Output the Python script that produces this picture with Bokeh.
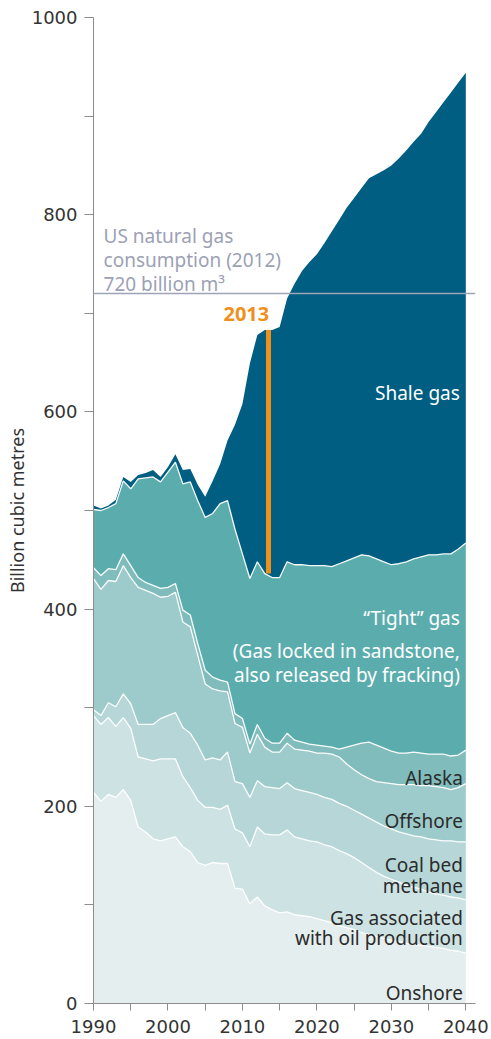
from bokeh.plotting import figure
from bokeh.models import Range1d, FixedTicker, Span, ColumnDataSource
from bokeh.core.properties import value
from bokeh.embed import file_html
from bokeh.resources import INLINE

years = list(range(1990, 2041))

onshore = [214, 205, 212, 209, 217, 206, 179, 174, 167, 165, 167, 169, 159, 154, 143, 140, 143, 142, 142,
           117, 116, 101, 108, 99, 95, 92, 93, 90, 89, 88, 86, 84, 82, 79, 77, 75, 72, 70, 68, 66, 64,
           63, 61, 60, 59, 58, 57, 56, 54, 53, 51]
associated = [78, 78, 78, 72, 73, 73, 71, 74, 79, 83, 81, 79, 71, 65, 63, 59, 56, 55, 59, 60, 57, 58, 71,
              73, 76, 79, 83, 79, 78, 77, 78, 77, 77, 76, 75, 73, 71, 68, 65, 63, 62, 60, 59, 58, 57, 55,
              54, 54, 54, 54, 54]
coalbed = [6, 9, 15, 20, 24, 25, 33, 35, 37, 41, 44, 47, 50, 55, 56, 48, 50, 50, 54, 48, 50, 50, 47, 48,
           48, 47, 48, 49, 49, 49, 48, 48, 48, 48, 48, 48, 49, 50, 51, 51, 51, 51, 52, 52, 53, 54, 55, 55,
           57, 57, 59]
offshore = [133, 128, 124, 127, 130, 128, 139, 136, 133, 123, 121, 122, 107, 108, 91, 77, 70, 70, 61, 59,
            57, 45, 47, 40, 36, 37, 40, 40, 41, 42, 42, 45, 46, 47, 43, 41, 40, 40, 41, 44, 46, 48, 50,
            52, 52, 54, 54, 54, 52, 55, 59]
alaska = [11, 14, 12, 12, 12, 12, 10, 8, 8, 9, 9, 9, 12, 12, 12, 14, 12, 11, 10, 10, 9, 9, 10, 9, 9, 9,
          10, 9, 8, 7, 8, 7, 7, 8, 17, 25, 32, 37, 37, 35, 33, 32, 32, 33, 33, 32, 33, 34, 34, 33, 34]
tight = [59, 66, 62, 67, 74, 78, 100, 106, 110, 108, 117, 123, 128, 135, 145, 155, 166, 179, 184, 187,
         167, 168, 165, 167, 168, 168, 174, 178, 180, 181, 182, 183, 183, 188, 189, 190, 191, 189, 189,
         189, 189, 192, 194, 196, 199, 202, 202, 203, 205, 209, 210]
shale = [4, 2, 2, 4, 4, 7, 4, 5, 7, 5, 5, 8, 14, 13, 16, 21, 33, 40, 61, 106, 152, 218, 230, 247, 251,
         254, 267, 285, 298, 308, 316, 327, 340, 349, 358, 365, 372, 383, 390, 397, 405, 411, 417, 423,
         429, 439, 449, 458, 468, 473, 477]

series_names = ["onshore", "associated", "coalbed", "offshore", "alaska", "tight", "shale"]
series_colors = ["#e4eeef", "#cde2e3", "#b6d6d7", "#9dcaca", "#80bcbc", "#5badad", "#005e82"]

x_ticks = [1990, 2000, 2010, 2020, 2030, 2040]
x_minor = [1995, 2005, 2015, 2025, 2035]
y_ticks = [0, 200, 400, 600, 800, 1000]
y_minor = [100, 300, 500, 700, 900]

consumption_2012 = 720
marker_year = 2013

data = dict(year=years, onshore=onshore, associated=associated, coalbed=coalbed,
            offshore=offshore, alaska=alaska, tight=tight, shale=shale)
source = ColumnDataSource(data)

FONT = value("Noto Sans")
AXIS_C = "#8c8c8c"
TEXT_C = "#333333"

p = figure(width=491, height=1039, x_range=Range1d(1990, 2041.3), y_range=Range1d(0, 1000),
           output_backend="svg", toolbar_location=None,
           min_border_left=93, min_border_right=16, min_border_top=17, min_border_bottom=36)
p.background_fill_color = "white"
p.border_fill_color = "white"
p.outline_line_color = None
p.xgrid.visible = False
p.ygrid.visible = False

p.varea_stack(stackers=series_names, x="year", color=series_colors, source=source)

# white separators between layers
cum = [0] * len(years)
layers = [onshore, associated, coalbed, offshore, alaska, tight]
tops = []
for lay in layers:
    cum = [c + v for c, v in zip(cum, lay)]
    tops.append(cum)
    p.line(years, cum, line_color="white", line_width=1.3, line_alpha=0.95)

total = [c + v for c, v in zip(cum, shale)]

# consumption line
p.add_layout(Span(location=consumption_2012, dimension="width", line_color="#9ea4b7", line_width=1.5))

# 2013 marker bar
i13 = years.index(marker_year)
p.segment(x0=[marker_year + 0.5], y0=[tops[-1][i13]], x1=[marker_year + 0.5], y1=[total[i13]],
          line_color="#f0901c", line_width=5)
p.text(x=[marker_year + 0.6], y=[699], text=[str(marker_year)], text_align="right",
       text_baseline="middle", text_font=FONT, text_font_size="20px", text_font_style="bold",
       text_color="#f0901c")

# consumption note
p.text(x=[1991.35] * 3, y=[778, 754, 730],
       text=["US natural gas", "consumption (2012)", "720 billion m³"],
       text_align="left", text_baseline="alphabetic", text_font=FONT, text_font_size="19px",
       text_color="#9ca1b6")

# labels on dark layers (white)
p.text(x=[2039.2] * 4, y=[619, 390.5, 357, 332.7],
       text=["Shale gas", "“Tight” gas", "(Gas locked in sandstone,", "also released by fracking)"],
       text_align="right", text_baseline="alphabetic", text_font=FONT, text_font_size="19px",
       text_color="white")

# labels on light layers (dark)
p.text(x=[2039.6] * 7, y=[229, 184.6, 140.6, 119.6, 86.5, 66.2, 10.4],
       text=["Alaska", "Offshore", "Coal bed", "methane", "Gas associated", "with oil production", "Onshore"],
       text_align="right", text_baseline="alphabetic", text_font=FONT, text_font_size="19px",
       text_color="#2b2b2b")

# axes
p.xaxis.ticker = FixedTicker(ticks=x_ticks, minor_ticks=x_minor)
p.yaxis.ticker = FixedTicker(ticks=y_ticks, minor_ticks=y_minor)
for ax in (p.xaxis, p.yaxis):
    ax.axis_line_color = AXIS_C
    ax.axis_line_width = 1
    ax.major_tick_line_color = AXIS_C
    ax.minor_tick_line_color = AXIS_C
    ax.major_tick_in = 0
    ax.minor_tick_in = 0
    ax.major_label_text_font = "DejaVu Sans"
    ax.major_label_text_font_size = "18px"
    ax.major_label_text_color = TEXT_C

p.xaxis.major_tick_out = 7
p.xaxis.minor_tick_out = 7
p.xaxis.major_label_standoff = 9
p.yaxis.major_tick_out = 9
p.yaxis.minor_tick_out = 9
p.yaxis.major_label_standoff = 7

p.yaxis.axis_label = "Billion cubic metres"
p.yaxis.axis_label_text_font = "Noto Sans"
p.yaxis.axis_label_text_font_size = "18px"
p.yaxis.axis_label_text_font_style = "normal"
p.yaxis.axis_label_text_color = TEXT_C
p.yaxis.axis_label_standoff = 0

open("out.html", "w").write(file_html(p, INLINE))
